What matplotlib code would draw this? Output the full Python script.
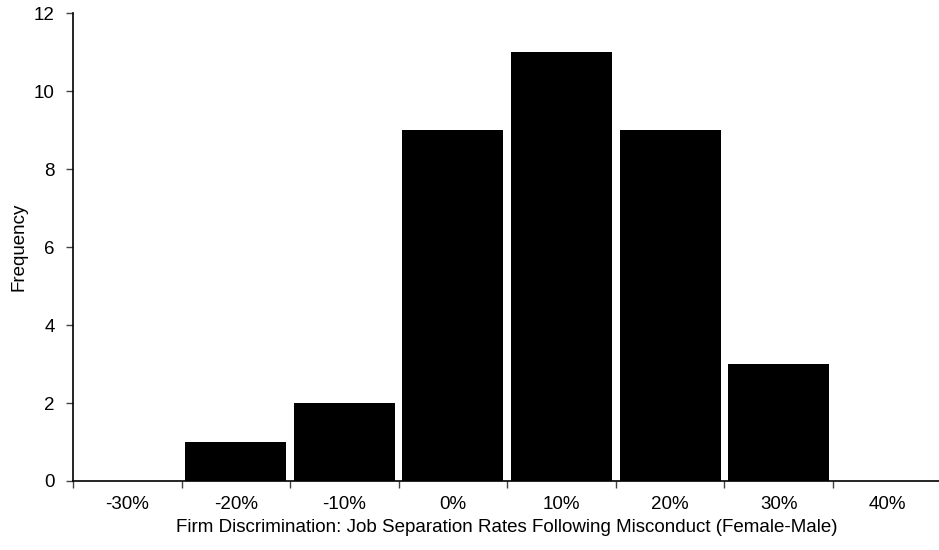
import numpy as np
import matplotlib.pyplot as plt

plt.rcParams['font.family'] = ['Liberation Sans', 'DejaVu Sans']

categorias = ['-30%', '-20%', '-10%', '0%', '10%', '20%', '30%', '40%']
frequencias = [0, 1, 2, 9, 11, 9, 3, 0]

fig = plt.figure(figsize=(9.39, 5.5), dpi=100)
ax = fig.add_axes([0.0777, 0.1255, 0.925, 0.8505])

x = np.arange(len(categorias))
ax.bar(x, frequencias, width=0.93, color='black', zorder=2)

ax.set_xlim(-0.5, len(categorias) - 0.5)
ax.set_ylim(0, 12)
ax.set_yticks(np.arange(0, 13, 2))

# ticks nas fronteiras das categorias, rotulos no centro
ax.set_xticks(np.arange(-0.5, len(categorias), 1.0))
ax.set_xticklabels([])
ax.set_xticks(x, minor=True)
ax.set_xticklabels(categorias, minor=True, fontsize=13.5)
ax.tick_params(axis='x', which='minor', length=0, pad=11)
ax.tick_params(axis='x', which='major', length=5, width=1, color='#444444')
ax.tick_params(axis='y', length=5, width=1, color='#444444', labelsize=13.5, pad=8)

for s in ['top', 'right']:
    ax.spines[s].set_visible(False)
for s in ['left', 'bottom']:
    ax.spines[s].set_linewidth(1.2)

ax.set_ylabel('Frequency', fontsize=13.5, labelpad=5)
ax.set_xlabel('Firm Discrimination: Job Separation Rates Following Misconduct (Female-Male)',
              fontsize=13.5, labelpad=4)

plt.savefig('out.png', dpi=100)
